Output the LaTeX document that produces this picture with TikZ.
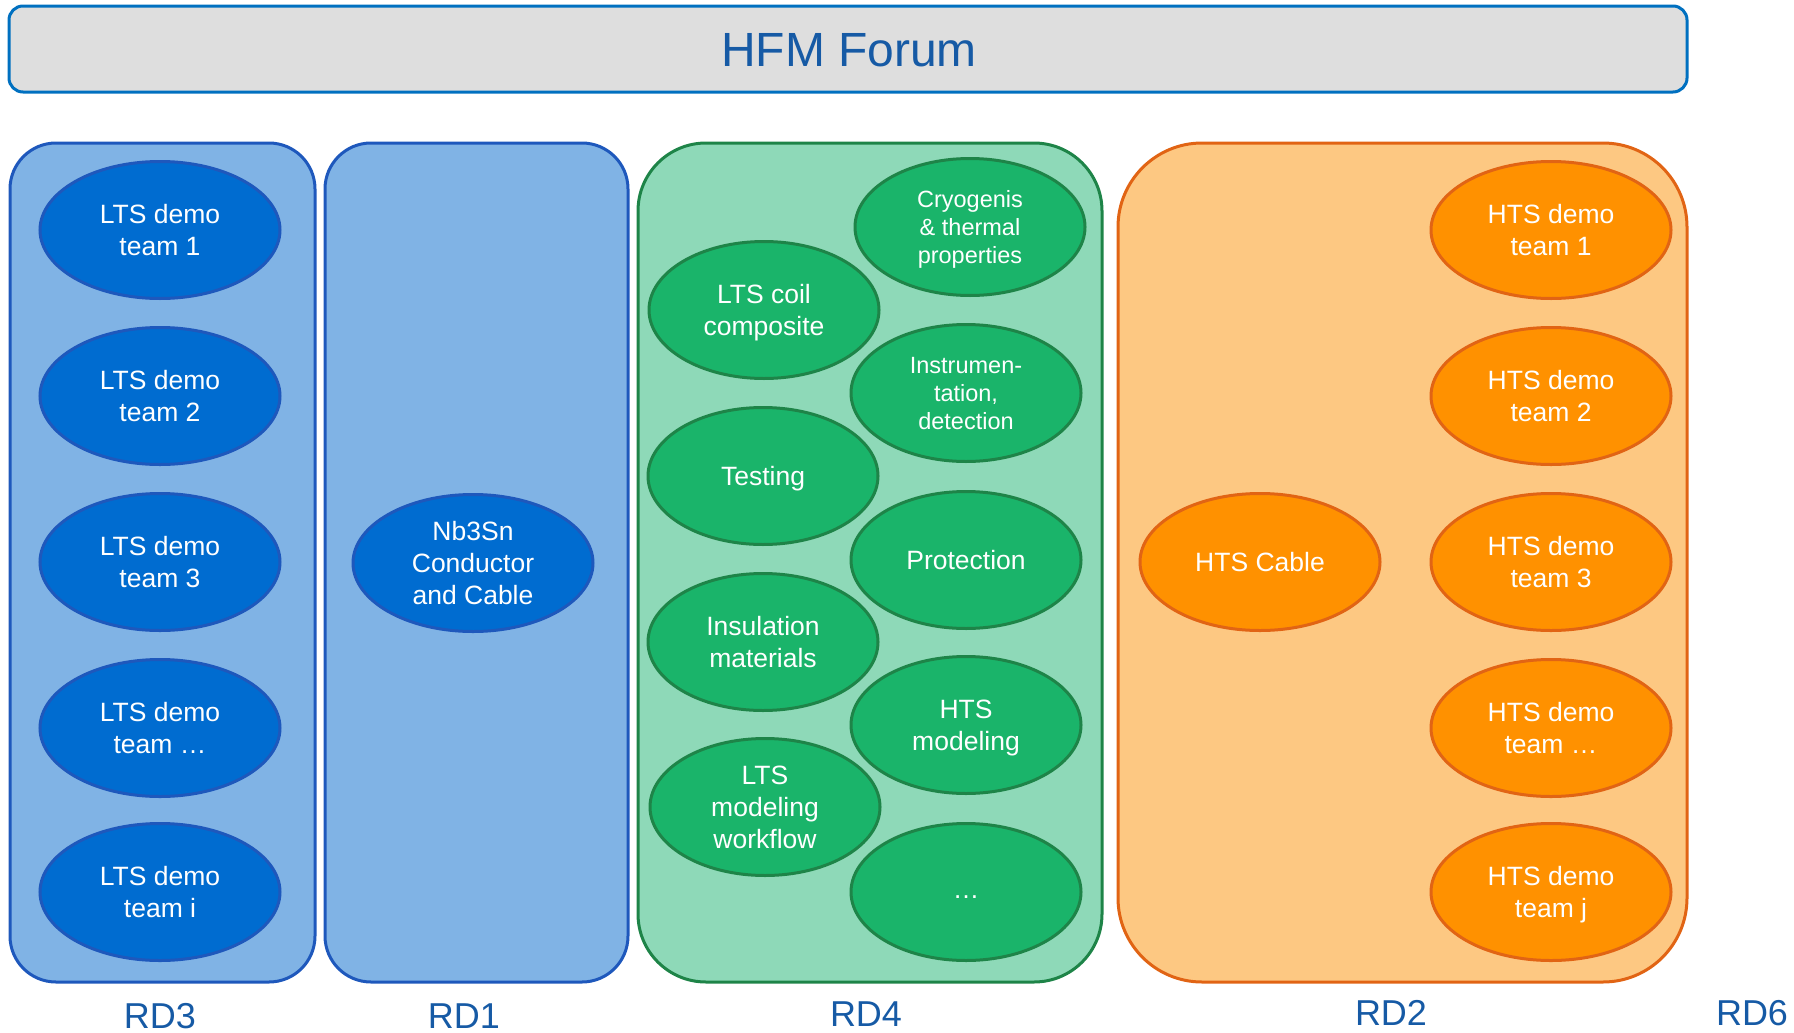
\documentclass[tikz,border=0pt]{standalone}
\usepackage{fontspec}
\setmainfont{Liberation Sans}
\usetikzlibrary{shapes.geometric}
\definecolor{forumgrey}{RGB}{222,222,222}
\definecolor{forumblue}{RGB}{0,112,192}
\definecolor{labelblue}{RGB}{22,90,165}
\definecolor{ltsfill}{RGB}{128,179,229}
\definecolor{ltsline}{RGB}{30,88,188}
\definecolor{ltsdark}{RGB}{0,108,208}
\definecolor{wpfill}{RGB}{142,217,184}
\definecolor{wpline}{RGB}{30,132,72}
\definecolor{wpdark}{RGB}{26,180,106}
\definecolor{htsfill}{RGB}{253,200,130}
\definecolor{htsline}{RGB}{225,100,20}
\definecolor{htsdark}{RGB}{255,145,0}

\begin{document}
\begin{tikzpicture}[x=0.5pt,y=-0.5pt]
    \tikzstyle{every node}+=[inner sep=0pt]
    \tikzstyle{column}=[draw, line width=1.5pt, minimum height=419.5pt]
    \tikzstyle{topic}=[ellipse, draw, line width=1.5pt, minimum width=120pt, minimum height=68.5pt, align=center, text depth=0pt, text=white, font=\fontsize{13.25pt}{16pt}\selectfont]
    \tikzstyle{wp}=[topic, fill=wpdark, draw=wpline, minimum width=115pt]
    \tikzstyle{rdlabel}=[text=labelblue, font=\fontsize{18pt}{21pt}\selectfont]
    \useasboundingbox (0,0) rectangle (1794,1033);
    % banner
    \node [draw=forumblue, fill=forumgrey, line width=1.5pt, rounded corners=7pt, minimum width=839pt, minimum height=43pt] (forum) at (848,49) {};
    \node [text=labelblue, font=\fontsize{24pt}{28pt}\selectfont] (forumtitle) at (849,50) {HFM Forum};
    % columns
    \node [column, fill=ltsfill, draw=ltsline, minimum width=152.5pt, rounded corners=23pt] (rd3box) at (162.5,562.5) {};
    \node [column, fill=ltsfill, draw=ltsline, minimum width=151.5pt, rounded corners=23pt] (rd1box) at (476.5,562.5) {};
    \node [column, fill=wpfill, draw=wpline, minimum width=232pt, rounded corners=34pt] (rd4box) at (870,562.5) {};
    \node [column, fill=htsfill, draw=htsline, minimum width=284.5pt, rounded corners=42pt] (rd2box) at (1402.5,562.5) {};
    % RD3
    \node [topic, fill=ltsdark, draw=ltsline] (lts1) at (160,230) {LTS demo\\team 1};
    \node [topic, fill=ltsdark, draw=ltsline] (lts2) at (160,396) {LTS demo\\team 2};
    \node [topic, fill=ltsdark, draw=ltsline] (lts3) at (160,562) {LTS demo\\team 3};
    \node [topic, fill=ltsdark, draw=ltsline] (ltsn) at (160,728) {LTS demo\\team …};
    \node [topic, fill=ltsdark, draw=ltsline] (ltsi) at (160,892) {LTS demo\\team i};
    % RD1
    \node [topic, fill=ltsdark, draw=ltsline] (nbsn) at (473,563) {Nb3Sn\\Conductor\\and Cable};
    % RD4
    \node [wp, font=\fontsize{11.75pt}{14pt}\selectfont] (cryo) at (970,227) {Cryogenis\\\& thermal\\properties};
    \node [wp] (coil) at (764,310) {LTS coil\\composite};
    \node [wp, font=\fontsize{11.75pt}{14pt}\selectfont] (instr) at (966,393) {Instrumen-\\tation,\\detection};
    \node [wp] (testing) at (763,476) {Testing};
    \node [wp] (protect) at (966,560) {Protection};
    \node [wp] (insul) at (763,642) {Insulation\\materials};
    \node [wp] (htsmod) at (966,725) {HTS\\modeling};
    \node [wp] (ltsmod) at (765,807) {LTS\\modeling\\workflow};
    \node [wp, text height=6pt] (wpmore) at (966,892) {…};
    % RD2
    \node [topic, fill=htsdark, draw=htsline] (htscable) at (1260,562) {HTS Cable};
    \node [topic, fill=htsdark, draw=htsline] (hts1) at (1551,230) {HTS demo\\team 1};
    \node [topic, fill=htsdark, draw=htsline] (hts2) at (1551,396) {HTS demo\\team 2};
    \node [topic, fill=htsdark, draw=htsline] (hts3) at (1551,562) {HTS demo\\team 3};
    \node [topic, fill=htsdark, draw=htsline] (htsn) at (1551,728) {HTS demo\\team …};
    \node [topic, fill=htsdark, draw=htsline] (htsj) at (1551,892) {HTS demo\\team j};
    % labels
    \node [rdlabel] (rd3) at (160,1016) {RD3};
    \node [rdlabel] (rd1) at (464,1016) {RD1};
    \node [rdlabel] (rd4) at (866,1014) {RD4};
    \node [rdlabel] (rd2) at (1391,1013) {RD2};
    \node [rdlabel] (rd6) at (1752,1013) {RD6};
\end{tikzpicture}
\end{document}
